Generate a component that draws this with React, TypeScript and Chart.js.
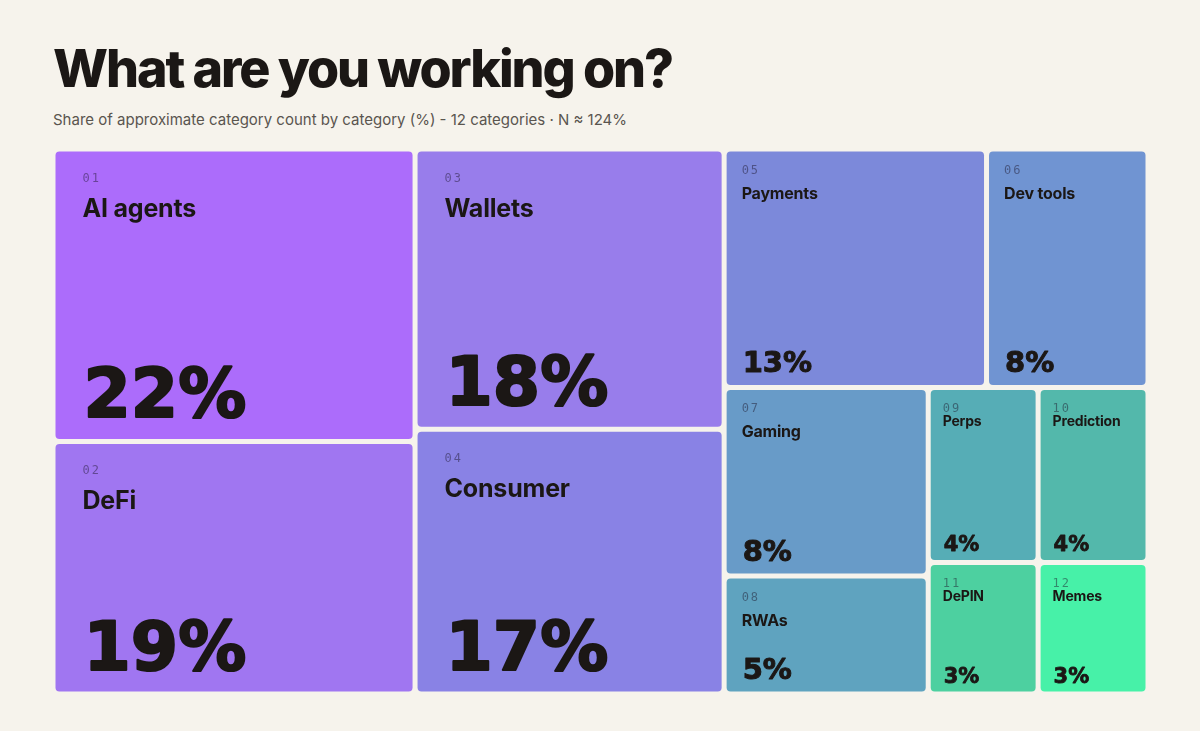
import React, { useEffect, useRef } from "react";
import { Chart, registerables } from "chart.js";

Chart.register(...registerables);

const categories = [
  "AI agents", "DeFi", "Wallets", "Consumer", "Payments", "Dev tools",
  "Gaming", "RWAs", "Perps", "Prediction", "DePIN", "Memes",
];
const shares = [22, 19, 18, 17, 13, 8, 8, 5, 4, 4, 3, 3];
const cellColors = [
  "#ac6cfb", "#a076f1", "#987deb", "#8982e5", "#7c89da", "#7094d2",
  "#689bc8", "#5fa3bf", "#56adb6", "#53b8ab", "#4dd0a0", "#47f1a8",
];

const BG = "#f6f3ec";
const INK = "#1b1715";

type Rect = { x0: number; y0: number; x1: number; y1: number };

function squarify(values: number[], x0: number, y0: number, x1: number, y1: number): Rect[] {
  const rects: Rect[] = [];
  const n = values.length;
  let value = values.reduce((a, b) => a + b, 0);
  let i0 = 0;
  let i1 = 0;
  const ratio = 1;
  while (i0 < n) {
    const dx = x1 - x0;
    const dy = y1 - y0;
    let sumValue = values[i1++];
    let minV = sumValue;
    let maxV = sumValue;
    const alpha = Math.max(dy / dx, dx / dy) / (value * ratio);
    let beta = sumValue * sumValue * alpha;
    let minRatio = Math.max(maxV / beta, beta / minV);
    for (; i1 < n; ++i1) {
      const nv = values[i1];
      sumValue += nv;
      if (nv < minV) minV = nv;
      if (nv > maxV) maxV = nv;
      beta = sumValue * sumValue * alpha;
      const nr = Math.max(maxV / beta, beta / minV);
      if (nr > minRatio) {
        sumValue -= nv;
        break;
      }
      minRatio = nr;
    }
    if (dx < dy) {
      const ny = y0 + (dy * sumValue) / value;
      let x = x0;
      for (let k = i0; k < i1; k++) {
        const w = ((x1 - x0) * values[k]) / sumValue;
        rects[k] = { x0: x, y0, x1: x + w, y1: ny };
        x += w;
      }
      y0 = ny;
    } else {
      const nx = x0 + (dx * sumValue) / value;
      let y = y0;
      for (let k = i0; k < i1; k++) {
        const h = ((y1 - y0) * values[k]) / sumValue;
        rects[k] = { x0, y0: y, x1: nx, y1: y + h };
        y += h;
      }
      x0 = nx;
    }
    value -= sumValue;
    i0 = i1;
  }
  return rects;
}

function roundRect(ctx: CanvasRenderingContext2D, x: number, y: number, w: number, h: number, r: number) {
  ctx.beginPath();
  ctx.moveTo(x + r, y);
  ctx.lineTo(x + w - r, y);
  ctx.quadraticCurveTo(x + w, y, x + w, y + r);
  ctx.lineTo(x + w, y + h - r);
  ctx.quadraticCurveTo(x + w, y + h, x + w - r, y + h);
  ctx.lineTo(x + r, y + h);
  ctx.quadraticCurveTo(x, y + h, x, y + h - r);
  ctx.lineTo(x, y + r);
  ctx.quadraticCurveTo(x, y, x + r, y);
  ctx.closePath();
}

const treemapPlugin = {
  id: "treemapCells",
  afterDatasetsDraw(chart: any) {
    const { ctx, chartArea, scales } = chart;
    const W = chartArea.right - chartArea.left;
    const H = chartArea.bottom - chartArea.top;
    const aspect = W / H;
    const rects = squarify(shares, 0, 0, aspect, 1);
    const gap = 2.5;
    ctx.save();
    rects.forEach((r, i) => {
      const px0 = scales.x.getPixelForValue(r.x0 / aspect) + gap;
      const px1 = scales.x.getPixelForValue(r.x1 / aspect) - gap;
      const py0 = scales.y.getPixelForValue(r.y0) + gap;
      const py1 = scales.y.getPixelForValue(r.y1) - gap;
      const w = px1 - px0;
      const h = py1 - py0;
      ctx.fillStyle = cellColors[i];
      roundRect(ctx, px0, py0, w, h, 4);
      ctx.fill();

      let tier: "large" | "medium" | "small";
      if (w < 150) tier = "small";
      else if (Math.min(w, h) >= 245) tier = "large";
      else tier = "medium";

      const cfg = {
        large: { pad: 27, idxY: 30, labY: 65, labSize: 25, pctSize: 68, pctB: 22, stroke: 2.2 },
        medium: { pad: 15, idxY: 22, labY: 47, labSize: 16, pctSize: 29, pctB: 13, stroke: 1.0 },
        small: { pad: 12, idxY: 22, labY: 36, labSize: 14, pctSize: 21, pctB: 9, stroke: 0.8 },
      }[tier];

      const idx = String(i + 1).padStart(2, "0");
      ctx.textAlign = "left";
      ctx.textBaseline = "alphabetic";
      ctx.fillStyle = "rgba(30,24,44,0.48)";
      ctx.font = "400 12px 'DejaVu Sans Mono'";
      (ctx as any).letterSpacing = "2px";
      ctx.fillText(idx, px0 + cfg.pad, py0 + cfg.idxY);
      (ctx as any).letterSpacing = "0px";

      ctx.fillStyle = INK;
      ctx.font = `700 ${cfg.labSize}px Inter`;
      (ctx as any).letterSpacing = "-0.2px";
      ctx.fillText(categories[i], px0 + cfg.pad, py0 + cfg.labY);
      (ctx as any).letterSpacing = "0px";

      ctx.font = `700 ${cfg.pctSize}px 'DejaVu Sans'`;
      ctx.strokeStyle = INK;
      ctx.lineWidth = cfg.stroke;
      ctx.lineJoin = "round";
      const label = `${shares[i]}%`;
      ctx.strokeText(label, px0 + cfg.pad + 1, py1 - cfg.pctB);
      ctx.fillText(label, px0 + cfg.pad + 1, py1 - cfg.pctB);
    });
    ctx.restore();
  },
};

export default function App() {
  const canvasRef = useRef<HTMLCanvasElement | null>(null);

  useEffect(() => {
    document.body.style.margin = "0";
    document.body.style.background = BG;
    if (!canvasRef.current) return;
    const chart = new Chart(canvasRef.current, {
      type: "scatter",
      data: { datasets: [{ data: [], pointRadius: 0 }] },
      options: {
        animation: false,
        responsive: true,
        maintainAspectRatio: false,
        layout: { padding: 0 },
        plugins: { legend: { display: false }, tooltip: { enabled: false }, title: { display: false } },
        scales: {
          x: { type: "linear", min: 0, max: 1, display: false },
          y: { type: "linear", min: 0, max: 1, reverse: true, display: false },
        },
      },
      plugins: [treemapPlugin],
    });
    return () => chart.destroy();
  }, []);

  return (
    <div style={{ position: "absolute", left: 0, top: 0, width: 1200, height: 731, background: BG, overflow: "hidden" }}>
      <h1
        style={{
          position: "absolute",
          left: 53,
          top: 43,
          margin: 0,
          fontFamily: "Inter, sans-serif",
          fontWeight: 800,
          fontSize: 52,
          lineHeight: "52px",
          letterSpacing: "-0.04em",
          color: INK,
          whiteSpace: "nowrap",
        }}
      >
        What are you working on?
      </h1>
      <div
        style={{
          position: "absolute",
          left: 53,
          top: 112,
          margin: 0,
          fontFamily: "Inter, sans-serif",
          fontWeight: 400,
          fontSize: 15,
          lineHeight: "15px",
          color: "#5a554f",
          whiteSpace: "nowrap",
        }}
      >
        Share of approximate category count by category (%) - 12 categories · N ≈ 124%
      </div>
      <div style={{ position: "absolute", left: 52.5, top: 148.5, width: 1095, height: 545 }}>
        <canvas ref={canvasRef} />
      </div>
    </div>
  );
}
